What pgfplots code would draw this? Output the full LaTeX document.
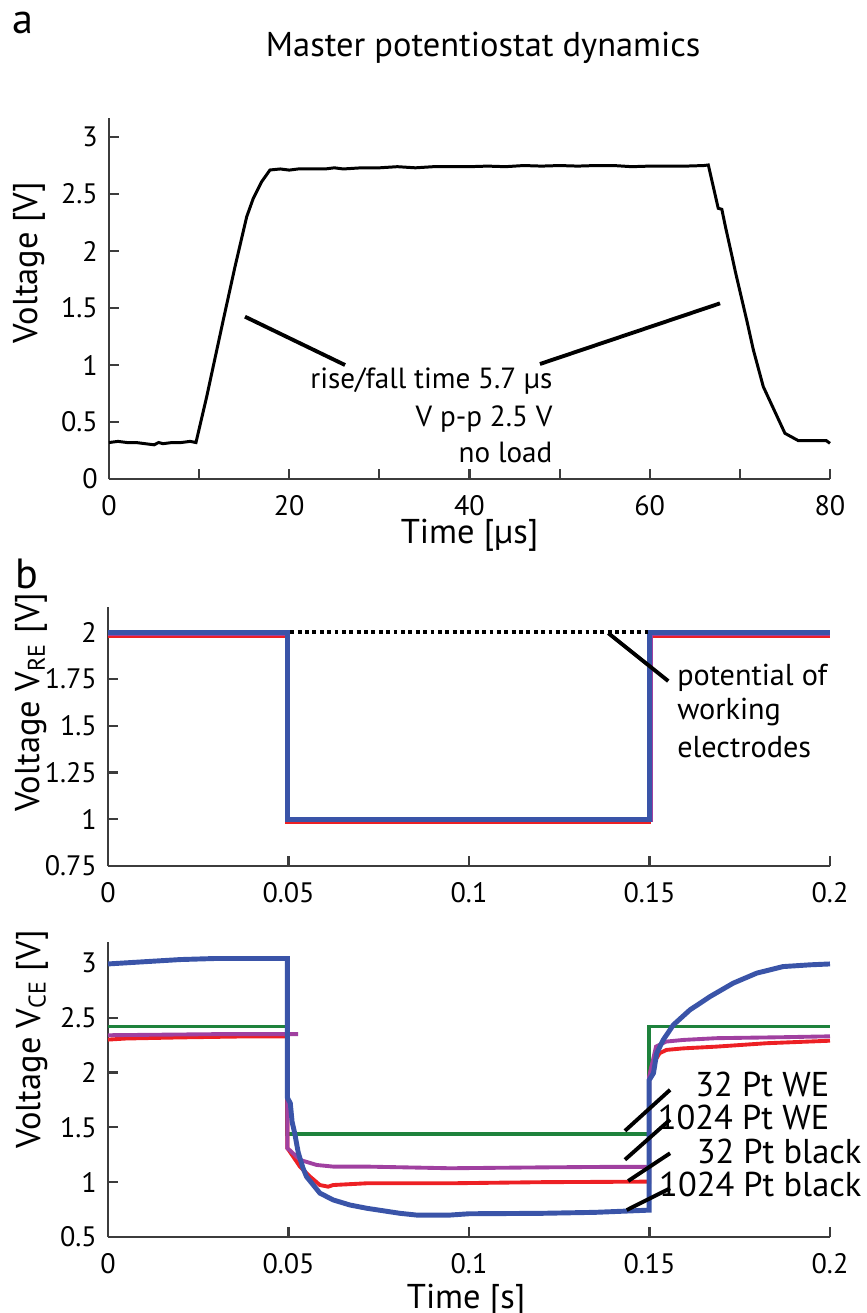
\documentclass[border=0pt]{standalone}
\usepackage{fontspec}
\setmainfont{PT Sans}
\usepackage{pgfplots}
\pgfplotsset{compat=1.18}

\definecolor{cblue}{RGB}{58,84,168}
\definecolor{cred}{RGB}{237,32,36}
\definecolor{cgreen}{RGB}{30,130,60}
\definecolor{cpurple}{RGB}{160,64,160}
\definecolor{axgray}{RGB}{60,60,60}

\newcommand\tickfont{\fontsize{8}{9.6}\selectfont}
\newcommand\labfont{\fontsize{9.8}{11}\selectfont}
\newcommand\notefont{\fontsize{8.3}{10}\selectfont}
\newcommand\wefont{\fontsize{8.6}{10}\selectfont}

\pgfplotsset{
  panel/.style={
    scale only axis, anchor=south west,
    axis x line*=bottom, axis y line*=left,
    axis line style={draw=axgray, line width=0.6pt},
    every tick/.style={draw=axgray, line width=0.6pt},
    tick align=inside, major tick length=1mm, minor tick length=1mm,
    ticklabel style={font=\tickfont, inner sep=0pt},
    xticklabel style={anchor=north, yshift=-1.6mm},
    yticklabel style={anchor=east, xshift=-1.05mm},
    label style={font=\labfont},
    every axis title shift=0pt,
    clip=false,
  },
}

\begin{document}
\begin{tikzpicture}
\useasboundingbox (0,0) rectangle (86.7mm,-131.3mm);

\node[font=\fontsize{12}{14}\selectfont, anchor=base west, inner sep=0pt] at (1.2mm,-3.3mm) {a};
\node[font=\fontsize{12}{14}\selectfont, anchor=base west, inner sep=0pt] at (1.5mm,-58.8mm) {b};

% (a) step response
\begin{axis}[panel, at={(10.9mm,-47.9mm)}, width=72.1mm, height=36.1mm,
  xmin=0, xmax=80, ymin=0, ymax=3.167,
  xtick={0,20,40,60,80}, xticklabels={0,20,40,60,80}, minor xtick={10,30,50,70},
  ytick={0,0.5,1,1.5,2,2.5,3}, yticklabels={0,0.5,1,1.5,2,2.5,3},
  xlabel={Time [µs]}, ylabel={Voltage [V]},
  xlabel style={at={(axis description cs:0.5,-0.155)}, anchor=center},
  ylabel style={at={(axis description cs:-0.111,0.60)}, anchor=center},
  title={Master potentiostat dynamics},
  title style={font=\labfont, at={(axis description cs:0.519,1.194)}, anchor=center}]
\addplot[black, line width=0.85pt] coordinates {
  (0,0.32) (1,0.33) (2,0.32) (3,0.32) (4,0.31) (5,0.30) (5.5,0.32) (6,0.31) (7,0.32) (8,0.32) (9,0.33) (9.65,0.32)
  (10.84,0.722) (12.68,1.395) (13.98,1.862) (15.28,2.301) (16.01,2.462) (16.94,2.608) (17.86,2.711)
  (19,2.72) (20,2.71) (21,2.72) (22,2.72) (24,2.72) (25,2.73) (26,2.72) (28,2.73) (30,2.73) (32,2.74)
  (34,2.73) (36,2.74) (38,2.74) (40,2.74) (42,2.745) (44,2.74) (46,2.75) (48,2.745) (50,2.75)
  (52,2.745) (54,2.75) (56,2.75) (58,2.74) (60,2.745) (62,2.745) (64,2.745) (66,2.75) (66.5,2.755)
  (67.6,2.375) (68.0,2.366) (68.4,2.213) (69.1,1.965) (69.5,1.819) (70.8,1.380) (71.5,1.132)
  (72.2,0.927) (72.6,0.810) (75.0,0.401) (76.5,0.336) (79.6,0.336) (80,0.313)
};
\addplot[black, line width=1.1pt] coordinates {(15.09,1.424) (26.19,1.0)};
\addplot[black, line width=1.1pt] coordinates {(47.82,1.009) (67.8,1.541)};
\node[font=\notefont, anchor=base east, inner sep=0pt] at (axis cs:49.27,0.795) {rise/fall time 5.7 µs};
\node[font=\notefont, anchor=base east, inner sep=0pt] at (axis cs:49.27,0.459) {V p-p 2.5 V};
\node[font=\notefont, anchor=base east, inner sep=0pt] at (axis cs:49.27,0.143) {no load};
\end{axis}

% (b) reference electrode potential
\begin{axis}[panel, at={(10.8mm,-86.6mm)}, width=72.2mm, height=25.9mm,
  xmin=0, xmax=0.2, ymin=0.75, ymax=2.135,
  xtick={0,0.05,0.1,0.15,0.2}, xticklabels={0,0.05,0.1,0.15,0.2},
  ytick={0.75,1,1.25,1.5,1.75,2}, yticklabels={0.75,1,1.25,1.5,1.75,2},
  ylabel={Voltage V\textsubscript{RE} [V]},
  ylabel style={at={(axis description cs:-0.106,0.633)}, anchor=center}]
\addplot[cgreen, line width=1.1pt] coordinates {(0,1.99) (0.0497,1.99) (0.0497,0.995) (0.1499,0.995) (0.1499,1.99) (0.2,1.99)};
\addplot[cred, line width=1.1pt] coordinates {(0,1.978) (0.0497,1.978) (0.0497,0.985) (0.1499,0.985) (0.1499,1.978) (0.2,1.978)};
\addplot[cpurple, line width=1.1pt] coordinates {(0,1.99) (0.0497,1.99) (0.0497,0.995) (0.1503,0.995) (0.1503,1.99) (0.2,1.99)};
\addplot[cblue, line width=1.4pt] coordinates {(0,1.997) (0.0496,1.997) (0.0496,1.0) (0.1499,1.0) (0.1499,2.0) (0.2,2.0)};
\addplot[black, densely dotted, line width=1.1pt] coordinates {(0.0505,2.0) (0.1495,2.0)};
\addplot[black, line width=1.1pt] coordinates {(0.1386,1.995) (0.1552,1.739)};
\node[font=\wefont, anchor=base west, inner sep=0pt] at (axis cs:0.1575,1.713) {potential of};
\node[font=\wefont, anchor=base west, inner sep=0pt] at (axis cs:0.1575,1.536) {working};
\node[font=\wefont, anchor=base west, inner sep=0pt] at (axis cs:0.1575,1.331) {electrodes};
\end{axis}

% (b) counter electrode potential
\begin{axis}[panel, at={(10.8mm,-123.7mm)}, width=72.2mm, height=29.5mm,
  xmin=0, xmax=0.2, ymin=0.5, ymax=3.19,
  xtick={0,0.05,0.1,0.15,0.2}, xticklabels={0,0.05,0.1,0.15,0.2},
  ytick={0.5,1,1.5,2,2.5,3}, yticklabels={0.5,1,1.5,2,2.5,3},
  xlabel={Time [s]}, ylabel={Voltage V\textsubscript{CE} [V]},
  xlabel style={at={(axis description cs:0.496,-0.214)}, anchor=center},
  ylabel style={at={(axis description cs:-0.105,0.671)}, anchor=center}]
% 32 Pt WE
\addplot[cgreen, line width=1.1pt] coordinates {(0,2.42) (0.0497,2.42) (0.0497,1.437) (0.1499,1.437) (0.1499,2.42) (0.2,2.42)};
% 32 Pt black
\addplot[cred, line width=1.1pt] coordinates {
  (0,2.30) (0.005,2.31) (0.02,2.32) (0.04,2.33) (0.0497,2.33) (0.0497,1.31) (0.0513,1.233) (0.0532,1.141)
  (0.056,1.05) (0.0587,0.974) (0.061,0.959) (0.0624,0.974) (0.0717,0.99) (0.0947,0.99) (0.12,1.0) (0.1499,1.005)
  (0.1499,1.95) (0.1505,2.05) (0.1528,2.176) (0.1547,2.206) (0.1593,2.22) (0.1685,2.236) (0.1824,2.267) (0.2,2.29)};
% 1024 Pt WE
\addplot[cpurple, line width=1.1pt] coordinates {
  (0,2.34) (0.03,2.35) (0.0527,2.35) (0.0497,2.35) (0.0497,1.309) (0.0504,1.29) (0.0532,1.203) (0.0578,1.157)
  (0.0624,1.142) (0.0717,1.142) (0.0947,1.127) (0.12,1.135) (0.14,1.14) (0.1499,1.14)
  (0.1499,1.96) (0.1518,2.236) (0.1546,2.282) (0.1593,2.297) (0.1685,2.313) (0.187,2.322) (0.2,2.33)};
% 1024 Pt black
\addplot[cblue, line width=1.4pt] coordinates {
  (0,2.99) (0.005,3.00) (0.015,3.02) (0.02,3.03) (0.03,3.04) (0.0497,3.04) (0.0497,1.77) (0.0505,1.72)
  (0.0510,1.55) (0.0517,1.45) (0.0527,1.27) (0.054,1.13) (0.055,1.05) (0.0587,0.90) (0.0624,0.838)
  (0.067,0.792) (0.0717,0.762) (0.0809,0.716) (0.0855,0.70) (0.0947,0.70) (0.10,0.712) (0.12,0.716)
  (0.135,0.725) (0.1499,0.745) (0.1499,1.93) (0.1511,1.994) (0.152,2.176) (0.1538,2.297) (0.1566,2.434)
  (0.1612,2.571) (0.1668,2.693) (0.1732,2.815) (0.1797,2.906) (0.187,2.966) (0.1945,2.982) (0.2,2.99)};
\addplot[black, line width=1.1pt] coordinates {(0.1432,1.468) (0.1557,1.842)};
\addplot[black, line width=1.1pt] coordinates {(0.1432,1.205) (0.1557,1.57)};
\addplot[black, line width=1.1pt] coordinates {(0.1441,1.011) (0.1557,1.264)};
\addplot[black, line width=1.1pt] coordinates {(0.1437,0.746) (0.1557,0.944)};
\node[font=\labfont, anchor=base east, inner sep=0pt] at (axis cs:0.2,1.780) {32 Pt WE};
\node[font=\labfont, anchor=base east, inner sep=0pt] at (axis cs:0.2,1.476) {1024 Pt WE};
\node[font=\labfont, anchor=base east, inner sep=0pt] at (axis cs:0.2089,1.172) {32 Pt black};
\node[font=\labfont, anchor=base east, inner sep=0pt] at (axis cs:0.2089,0.868) {1024 Pt black};
\end{axis}
\end{tikzpicture}
\end{document}
